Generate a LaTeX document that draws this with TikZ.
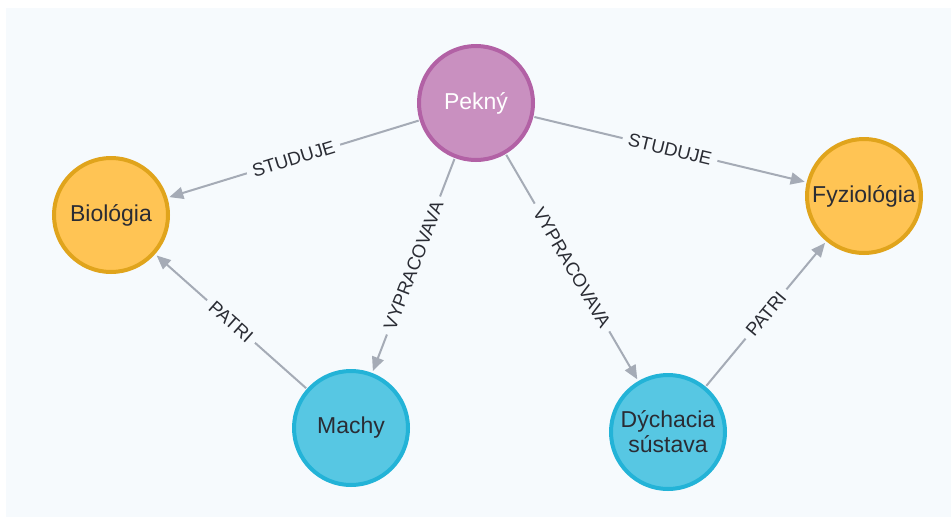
\documentclass[tikz,border=0pt]{standalone}
\usepackage{fontspec}
\setmainfont{Liberation Sans}
\usetikzlibrary{arrows.meta}
\definecolor{bg}{HTML}{F6FAFD}
\definecolor{edgec}{HTML}{A5ABB6}
\definecolor{txt}{HTML}{2A2C34}
\definecolor{pfill}{HTML}{C990C0}
\definecolor{pbord}{HTML}{B261A5}
\definecolor{yfill}{HTML}{FFC454}
\definecolor{ybord}{HTML}{E0A41C}
\definecolor{bfill}{HTML}{57C7E3}
\definecolor{bbord}{HTML}{23B3D7}
\tikzset{
  gnode/.style={circle, minimum size=114pt, inner sep=0pt, line width=4pt, align=center,
    font=\fontsize{23}{25}\selectfont, text=txt},
  person/.style={gnode, fill=pfill, draw=pbord, text=white},
  subject/.style={gnode, fill=yfill, draw=ybord},
  topic/.style={gnode, fill=bfill, draw=bbord},
  rel/.style={draw=edgec, line width=2pt, shorten >=2pt, shorten <=1pt,
    -{Triangle[length=14pt,width=12pt]}},
  rlabel/.style={midway, sloped, fill=bg, inner xsep=6pt, inner ysep=1pt, text=txt,
    font=\fontsize{18.5}{20}\selectfont}
}
\begin{document}
\begin{tikzpicture}[x=1pt,y=-1pt]
\useasboundingbox (0,0) rectangle (951,517);
\fill[bg] (6,8) rectangle (951,517);
\node[person]  (pek) at (476,103) {Pekný};
\node[subject] (bio) at (111,215) {Biológia};
\node[subject] (fyz) at (864,196) {Fyziológia};
\node[topic]   (mac) at (351,428) {Machy};
\node[topic]   (dych) at (668,432) {Dýchacia\\sústava};
\draw[rel] (pek) -- node[rlabel] {STUDUJE} (bio);
\draw[rel] (pek) -- node[rlabel] {STUDUJE} (fyz);
\draw[rel] (pek) -- node[rlabel] {VYPRACOVAVA} (mac);
\draw[rel] (pek) -- node[rlabel] {VYPRACOVAVA} (dych);
\draw[rel] (mac) -- node[rlabel] {PATRI} (bio);
\draw[rel] (dych) -- node[rlabel] {PATRI} (fyz);
\end{tikzpicture}
\end{document}
